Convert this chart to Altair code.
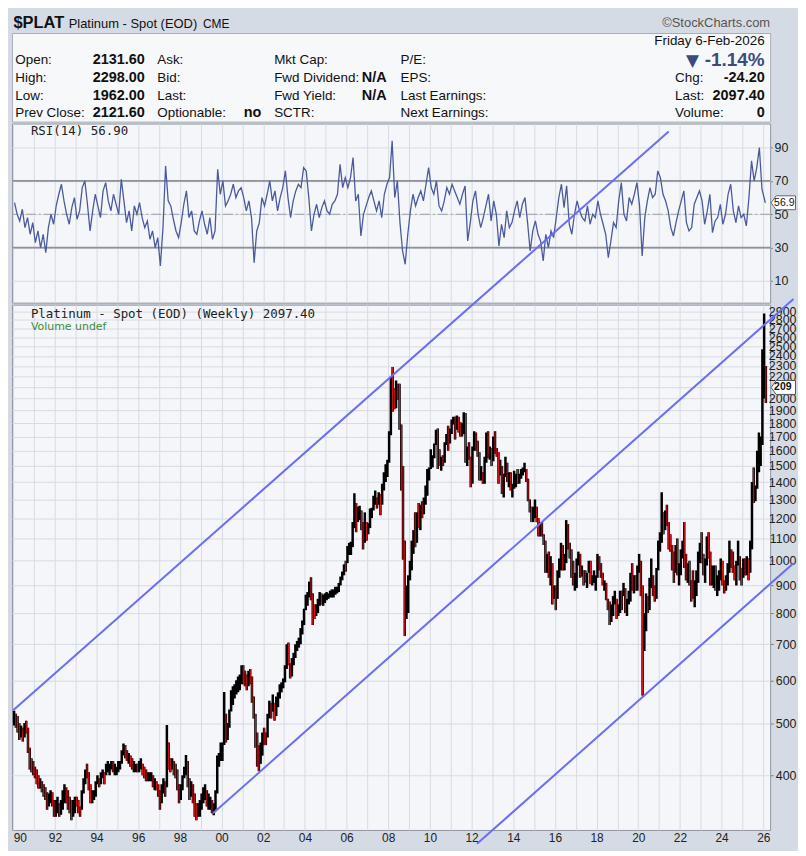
import altair as alt
import pandas as pd

# ------------------------------------------------------------------ data
START_YEAR = 1990  # first monthly bar = Jan 1990

HIGH = [
    527, 520, 515, 500, 495, 490, 500, 505, 490, 450, 430, 425,
    415, 410, 400, 395, 390, 385, 380, 372, 370, 375, 372, 360,
    360, 365, 355, 360, 375, 385, 380, 375, 365, 360, 360, 365,
    365, 360, 350, 375, 395, 410, 420, 405, 385, 375, 375, 390,
    400, 395, 405, 410, 405, 420, 425, 420, 425, 425, 420, 415,
    425, 425, 445, 458, 455, 445, 440, 435, 430, 425, 420, 420,
    425, 430, 420, 415, 410, 405, 405, 405, 400, 395, 390, 385,
    375, 385, 395, 390, 496, 460, 430, 430, 425, 420, 410, 385,
    385, 400, 415, 436, 425, 395, 390, 385, 370, 355, 355, 360,
    370, 380, 385, 375, 370, 365, 360, 355, 375, 435, 440, 460,
    460, 571, 520, 500, 530, 575, 585, 590, 600, 610, 615, 640,
    640, 625, 615, 625, 630, 610, 560, 520, 480, 455, 460, 480,
    490, 480, 520, 550, 545, 565, 545, 560, 570, 590, 595, 605,
    640, 700, 705, 645, 660, 675, 700, 710, 720, 750, 775, 815,
    865, 875, 915, 932, 870, 830, 830, 850, 875, 870, 865, 870,
    875, 870, 880, 885, 885, 895, 895, 910, 935, 955, 985, 1000,
    1065, 1080, 1085, 1180, 1335, 1280, 1260, 1265, 1240, 1180, 1230, 1180,
    1175, 1250, 1255, 1320, 1350, 1310, 1340, 1330, 1390, 1460, 1510, 1540,
    1740, 2195, 2290, 2090, 2160, 2130, 2130, 1790, 1500, 1090, 900, 940,
    1000, 1090, 1140, 1230, 1230, 1280, 1270, 1290, 1310, 1380, 1480, 1490,
    1610, 1570, 1650, 1750, 1760, 1610, 1560, 1570, 1660, 1720, 1780, 1760,
    1830, 1850, 1850, 1860, 1850, 1810, 1800, 1886, 1880, 1630, 1660, 1560,
    1630, 1740, 1730, 1670, 1590, 1500, 1460, 1560, 1730, 1740, 1630, 1620,
    1700, 1740, 1620, 1590, 1540, 1500, 1450, 1560, 1520, 1460, 1460, 1390,
    1470, 1450, 1480, 1450, 1480, 1490, 1520, 1480, 1420, 1300, 1260, 1260,
    1300, 1260, 1200, 1180, 1180, 1120, 1090, 1030, 1040, 1020, 990, 900,
    900, 960, 1010, 1080, 1070, 1030, 1190, 1170, 1080, 1050, 1000, 950,
    1010, 1040, 1030, 980, 960, 960, 950, 1000, 1000, 940, 960, 940,
    1030, 1020, 990, 950, 920, 910, 850, 840, 830, 860, 880, 850,
    830, 880, 880, 910, 890, 850, 880, 950, 990, 940, 940, 980,
    1030, 1000, 900, 800, 870, 860, 930, 1010, 940, 900, 970, 1090,
    1130, 1340, 1230, 1240, 1270, 1180, 1120, 1070, 1040, 1070, 1100, 990,
    1050, 1090, 1180, 1030, 990, 1000, 920, 960, 920, 960, 1040, 1080,
    1130, 1030, 1010, 1110, 1130, 1040, 980, 980, 980, 940, 960, 1010,
    1000, 920, 940, 990, 1090, 1050, 1040, 980, 1000, 1090, 1020, 970,
    1010, 1010, 1020, 1010, 1090, 1400, 1490, 1380, 1600, 1730, 1700, 2470,
    2876, 2298,
]

LOW = [
    495, 490, 480, 465, 470, 462, 470, 478, 440, 410, 405, 400,
    395, 385, 378, 378, 372, 365, 360, 345, 350, 355, 350, 335,
    335, 340, 335, 338, 345, 355, 355, 345, 340, 330, 335, 340,
    350, 340, 335, 345, 370, 385, 395, 375, 355, 355, 360, 365,
    385, 380, 385, 395, 385, 400, 405, 400, 410, 405, 400, 400,
    405, 410, 420, 435, 430, 425, 420, 415, 410, 405, 405, 405,
    405, 410, 400, 395, 390, 390, 390, 390, 380, 375, 375, 365,
    345, 355, 370, 365, 380, 410, 405, 410, 400, 395, 375, 355,
    360, 375, 395, 400, 380, 360, 365, 355, 335, 330, 335, 335,
    345, 355, 360, 350, 345, 345, 340, 337, 345, 370, 415, 425,
    425, 455, 460, 465, 490, 525, 540, 555, 565, 570, 575, 590,
    590, 585, 575, 585, 590, 545, 510, 450, 415, 407, 420, 435,
    455, 455, 470, 510, 510, 525, 505, 515, 535, 555, 570, 580,
    595, 630, 640, 605, 610, 640, 660, 680, 690, 700, 730, 760,
    810, 825, 855, 845, 760, 780, 790, 800, 825, 830, 825, 835,
    845, 850, 855, 855, 855, 865, 870, 875, 900, 920, 940, 955,
    990, 1025, 1025, 1060, 1150, 1130, 1180, 1190, 1140, 1050, 1080, 1090,
    1120, 1150, 1200, 1240, 1270, 1250, 1270, 1215, 1270, 1350, 1400, 1430,
    1520, 1710, 1890, 1910, 1920, 1990, 1750, 1350, 1005, 725, 780, 800,
    920, 960, 1030, 1060, 1080, 1150, 1140, 1200, 1220, 1270, 1320, 1410,
    1480, 1490, 1550, 1640, 1480, 1500, 1470, 1500, 1520, 1640, 1600, 1650,
    1720, 1790, 1680, 1750, 1730, 1700, 1700, 1720, 1520, 1500, 1540, 1370,
    1390, 1600, 1600, 1560, 1410, 1410, 1390, 1390, 1520, 1550, 1540, 1500,
    1530, 1580, 1560, 1390, 1440, 1330, 1310, 1430, 1400, 1370, 1350, 1310,
    1360, 1370, 1390, 1390, 1420, 1440, 1460, 1400, 1290, 1230, 1180, 1180,
    1200, 1180, 1110, 1110, 1110, 1070, 950, 950, 930, 900, 830, 850,
    810, 850, 930, 960, 960, 960, 990, 1050, 1010, 930, 900, 880,
    890, 980, 930, 935, 900, 910, 890, 950, 905, 900, 910, 880,
    930, 960, 930, 900, 880, 845, 810, 760, 770, 790, 830, 780,
    790, 800, 810, 860, 800, 790, 830, 840, 880, 870, 880, 880,
    950, 860, 562, 680, 740, 800, 810, 890, 860, 840, 850, 960,
    1040, 1080, 1120, 1140, 1160, 1050, 1040, 960, 910, 950, 940, 900,
    940, 1010, 970, 920, 910, 900, 840, 850, 820, 860, 910, 990,
    990, 940, 910, 980, 1010, 900, 900, 890, 880, 860, 880, 920,
    900, 870, 880, 900, 950, 970, 950, 920, 900, 980, 920, 900,
    930, 940, 940, 920, 950, 1050, 1280, 1290, 1360, 1460, 1500, 1640,
    2000, 1962,
]

CLOSE = [
    505, 500, 490, 470, 480, 470, 490, 485, 445, 418, 415, 408,
    400, 392, 385, 385, 378, 372, 368, 352, 362, 365, 355, 340,
    350, 350, 340, 355, 365, 375, 365, 355, 345, 340, 355, 360,
    355, 345, 340, 370, 390, 405, 400, 385, 360, 365, 370, 385,
    390, 385, 400, 400, 395, 410, 410, 415, 420, 410, 410, 410,
    420, 420, 440, 450, 435, 430, 430, 425, 415, 415, 415, 410,
    415, 415, 410, 400, 395, 395, 395, 395, 385, 385, 380, 370,
    355, 375, 385, 380, 430, 420, 415, 420, 415, 405, 385, 365,
    380, 395, 410, 420, 390, 370, 380, 365, 345, 340, 345, 350,
    360, 370, 375, 355, 355, 355, 345, 345, 370, 420, 430, 445,
    450, 510, 475, 490, 525, 560, 570, 575, 590, 590, 600, 615,
    610, 600, 590, 610, 600, 555, 530, 460, 440, 425, 440, 475,
    470, 465, 515, 545, 525, 560, 525, 550, 555, 580, 585, 600,
    635, 690, 660, 615, 650, 660, 690, 700, 705, 740, 760, 810,
    850, 860, 905, 860, 810, 800, 810, 840, 860, 850, 855, 860,
    860, 865, 865, 870, 870, 880, 880, 900, 920, 940, 970, 965,
    1045, 1045, 1070, 1150, 1250, 1220, 1230, 1230, 1160, 1100, 1190, 1120,
    1150, 1220, 1240, 1300, 1300, 1270, 1320, 1260, 1360, 1440, 1460, 1530,
    1720, 2170, 2000, 1990, 2100, 2040, 1780, 1460, 1030, 830, 850, 930,
    980, 1070, 1130, 1100, 1200, 1180, 1260, 1250, 1290, 1340, 1450, 1460,
    1530, 1550, 1640, 1720, 1560, 1530, 1540, 1530, 1660, 1700, 1670, 1750,
    1800, 1830, 1760, 1830, 1810, 1720, 1790, 1830, 1520, 1600, 1550, 1370,
    1610, 1720, 1640, 1570, 1430, 1450, 1410, 1540, 1670, 1590, 1590, 1530,
    1680, 1590, 1580, 1460, 1460, 1340, 1430, 1520, 1410, 1450, 1360, 1370,
    1380, 1430, 1410, 1420, 1460, 1480, 1480, 1420, 1300, 1250, 1210, 1210,
    1250, 1190, 1140, 1140, 1110, 1080, 980, 1020, 910, 980, 840, 890,
    870, 930, 970, 1070, 980, 1000, 1150, 1060, 1020, 950, 900, 905,
    1000, 1025, 950, 950, 940, 920, 940, 990, 910, 920, 930, 930,
    1000, 990, 940, 900, 900, 850, 830, 790, 820, 840, 850, 800,
    820, 860, 850, 890, 800, 840, 870, 930, 890, 930, 900, 970,
    970, 860, 730, 770, 840, 810, 910, 930, 880, 860, 960, 1070,
    1080, 1200, 1190, 1200, 1190, 1070, 1050, 1010, 960, 1030, 960, 960,
    1020, 1050, 990, 940, 950, 910, 880, 850, 860, 930, 1000, 1070,
    1010, 950, 990, 1100, 1030, 910, 940, 960, 910, 930, 940, 1000,
    930, 880, 920, 960, 1040, 1010, 990, 930, 990, 1000, 950, 910,
    980, 950, 990, 960, 1070, 1340, 1300, 1360, 1550, 1600, 1640, 2060,
    2122, 2097.4,
]

# RSI(14), eight readings per year from 1990, plus the last value
RSI_PER_YEAR = 8
RSI = [
    57, 50, 46, 53, 42, 48, 38, 45,
    33, 40, 30, 38, 27, 42, 50, 44,
    55, 62, 68, 58, 50, 44, 54, 60,
    47, 52, 66, 70, 56, 40, 52, 62,
    55, 48, 64, 69, 58, 52, 62, 56,
    50, 71, 58, 45, 52, 40, 55, 50,
    57, 48, 42, 46, 35, 40, 30, 36,
    19, 42, 79, 58, 55, 47, 40, 36,
    45, 56, 64, 48, 52, 40, 38, 46,
    52, 44, 38, 48, 35, 40, 77, 62,
    70, 55, 58, 62, 68, 60, 64, 66,
    60, 52, 58, 48, 21, 40, 45, 60,
    55, 62, 70, 58, 64, 52, 60, 66,
    76, 60, 48, 58, 64, 68, 66, 78,
    76, 60, 40, 50, 56, 48, 54, 58,
    52, 50, 56, 58, 62, 80, 66, 72,
    66, 72, 84, 58, 62, 37, 50, 55,
    60, 64, 58, 52, 58, 48, 62, 68,
    72, 94, 60, 70, 45, 28, 20, 38,
    52, 62, 55, 60, 64, 58, 68, 78,
    66, 62, 70, 55, 52, 58, 66, 62,
    68, 64, 60, 56, 62, 67, 34, 45,
    58, 64, 50, 42, 48, 55, 62, 46,
    58, 50, 31, 44, 36, 52, 42, 45,
    52, 58, 48, 56, 60, 45, 28, 40,
    46, 38, 34, 22, 38, 30, 40, 36,
    48, 60, 68, 54, 67, 44, 38, 50,
    58, 52, 48, 46, 55, 44, 50, 48,
    58, 50, 44, 38, 24, 34, 45, 42,
    58, 69, 50, 46, 60, 56, 62, 69,
    55, 25, 48, 58, 66, 60, 62, 76,
    72, 62, 58, 52, 42, 37, 45, 52,
    58, 64, 45, 40, 42, 56, 60, 64,
    58, 44, 52, 62, 39, 46, 48, 56,
    44, 50, 62, 68, 52, 45, 55, 48,
    50, 43, 60, 82, 70, 78, 90, 65,
]
RSI_LAST_T = 2026.10
RSI_LAST = 56.90

# channel lines (year, price) end points
TREND_T = [[1990.0, 2021.46], [1999.59, 2027.45], [2012.26, 2027.45]]
TREND_P = [[528, 6262], [340, 3060], [298.4, 990]]

# header texts
SYMBOL = "$PLAT"
NAME = "Platinum - Spot (EOD)"
EXCHANGE = "CME"
BRAND = "©StockCharts.com"
DATE_TEXT = "Friday  6-Feb-2026"
PCT_CHANGE = "-1.14%"
HEAD_LABELS = [
    ["Open:", "High:", "Low:", "Prev Close:"],
    ["Ask:", "Bid:", "Last:", "Optionable:"],
    ["Mkt Cap:", "Fwd Dividend:", "Fwd Yield:", "SCTR:"],
    ["P/E:", "EPS:", "Last Earnings:", "Next Earnings:"],
    ["", "Chg:", "Last:", "Volume:"],
]
HEAD_VALUES = [
    ["2131.60", "2298.00", "1962.00", "2121.60"],
    ["", "", "", "no"],
    ["", "N/A", "N/A", ""],
    ["", "", "", ""],
    ["", "-24.20", "2097.40", "0"],
]
RSI_TITLE = "RSI(14) 56.90"
PRICE_TITLE = "Platinum - Spot (EOD) (Weekly) 2097.40"
VOLUME_TITLE = "Volume undef"
LAST_PRICE = 2097.40
LAST_PRICE_TEXT = "2097.40"
LAST_RSI_TEXT = "56.90"

YEARS = list(range(1990, 2027))
RSI_TICKS = [10, 30, 50, 70, 90]
PRICE_TICKS = list(range(400, 3000, 100))

# ------------------------------------------------------------------ layout / style
W = 762
H_TITLE, H_HEAD, H_RSI, H_PRICE = 21, 89, 180, 528
X_DOMAIN = [1989.94, 2026.33]
P_DOMAIN = [316.6, 2988]
R_DOMAIN = [-3.0, 104.4]

BG = "#d5dbe4"
PANEL = "#f4f6fa"
GRID = "#d7dbe2"
BORDER = "#8f959e"
FONT = "Liberation Sans"
MONO = "DejaVu Sans Mono"
BLUE = "#3d4b7c"

LABEL_X = [3.3, 146, 263.5, 390.5, 666.5]
VALUE_RX = [133.4, 250.6, 376.6, None, 756.5]
ROW_Y = [27.3, 45, 63, 80]

TAG_PATH = "M0,0 L0.5,-0.7 L2.45,-0.7 L2.45,0.7 L0.5,0.7 Z"
CUT = "\u200b"

# ------------------------------------------------------------------ helpers
def text_layer(rows, align="left", weight="normal", font=FONT):
    df = pd.DataFrame(rows, columns=["text", "px", "py", "fs", "col"])
    return alt.Chart(df).mark_text(align=align, baseline="middle",
                                   fontWeight=weight, font=font).encode(
        x=alt.X("px:Q", scale=None, axis=None),
        y=alt.Y("py:Q", scale=None, axis=None),
        text="text:N",
        size=alt.Size("fs:Q", scale=None, legend=None),
        color=alt.Color("col:N", scale=None, legend=None),
    )


def label_at(text, x, y, size, color="#222", font=MONO, weight="normal", align="left"):
    return alt.Chart(pd.DataFrame({"text": [text]})).mark_text(
        align=align, baseline="middle", font=font, fontSize=size,
        fontWeight=weight, color=color).encode(
        x=alt.value(x), y=alt.value(y), text="text:N")


def x_enc(field, with_labels):
    if with_labels:
        axis = alt.Axis(values=YEARS, grid=True, gridColor=GRID, domain=False, ticks=False,
                        labelExpr="datum.value % 2 == 0 ? (datum.value % 100 < 10 ? '0' + (datum.value % 100) : '' + (datum.value % 100)) : ''",
                        labelFont=FONT, labelFontSize=12, labelColor="#222", labelPadding=3,
                        labelFlush=2, labelOverlap=False, minExtent=0, title=None)
    else:
        axis = alt.Axis(values=YEARS, grid=True, gridColor=GRID, domain=False, ticks=False,
                        labels=False, minExtent=0, title=None)
    return alt.X(field, type="quantitative", scale=alt.Scale(domain=X_DOMAIN, nice=False, zero=False), axis=axis)


def rsi_y(field):
    return alt.Y(field, type="quantitative", scale=alt.Scale(domain=R_DOMAIN, nice=False, zero=False),
                 axis=alt.Axis(orient="right", values=RSI_TICKS, grid=True, gridColor=GRID,
                               domain=False, tickSize=2, tickColor="#777", labelFont=FONT,
                               labelFontSize=12.5, labelColor="#222", labelPadding=2,
                               minExtent=0, title=None))


def price_y(field):
    return alt.Y(field, type="quantitative",
                 scale=alt.Scale(type="log", domain=P_DOMAIN, nice=False),
                 axis=alt.Axis(orient="right", values=PRICE_TICKS, grid=True, gridColor=GRID,
                               domain=False, tickSize=3, tickColor="#777", labelFont=FONT,
                               labelFontSize=12.5, labelColor="#222", labelPadding=23,
                               labelAlign="right", labelOverlap=False, minExtent=0,
                               labelExpr="datum.value == 2100 ? '' : datum.label",
                               format="d", title=None))


# ------------------------------------------------------------------ frames
n = len(CLOSE)
t_month = [START_YEAR + (i + 0.5) / 12 for i in range(n)]
prev = [CLOSE[0]] + CLOSE[:-1]
price_df = pd.DataFrame({
    "t": t_month, "high": HIGH, "low": LOW, "close": CLOSE,
    "dir": ["down" if c < p else "up" for c, p in zip(CLOSE, prev)],
})
down_df = price_df[price_df["dir"] == "down"]

rsi_t = [START_YEAR + (i + 0.5) / RSI_PER_YEAR for i in range(len(RSI))] + [RSI_LAST_T]
rsi_df = pd.DataFrame({"t": rsi_t, "rsi": RSI + [RSI_LAST]})

trend_rows = []
for k, (ts, ps) in enumerate(zip(TREND_T, TREND_P)):
    for tt, pp in zip(ts, ps):
        trend_rows.append({"line": k, "t": tt, "p": pp})
trend_df = pd.DataFrame(trend_rows)

# ------------------------------------------------------------------ title strip
title_left = text_layer([
    [NAME, 57, 13.5, 13, "#111"],
    [EXCHANGE, 192, 13.5, 12, "#111"],
])
title_bold = text_layer([[SYMBOL, 1.5, 12.7, 16.5, "#111"]], weight="bold")
title_right = text_layer([[BRAND, 762, 13, 13, "#555"]], align="right")
title_panel = alt.layer(title_bold, title_left, title_right).properties(
    width=W, height=H_TITLE, view=alt.ViewBackground(fill=None, stroke=None))

# ------------------------------------------------------------------ header box
lab_rows, val_rows = [], []
for c, (labs, vals) in enumerate(zip(HEAD_LABELS, HEAD_VALUES)):
    for r, (lab, val) in enumerate(zip(labs, vals)):
        if lab:
            lab_rows.append([lab, LABEL_X[c], ROW_Y[r], 13.5, "#111"])
        if val:
            val_rows.append([val, VALUE_RX[c], ROW_Y[r], 14.5, "#111"])
val_rows.append([PCT_CHANGE, 756.5, 27, 19, BLUE])
head_panel = alt.layer(
    text_layer(lab_rows),
    text_layer(val_rows, align="right", weight="bold"),
    text_layer([[DATE_TEXT, 756.5, 8.5, 13.5, "#111"]], align="right"),
    text_layer([["▼", 684, 28, 17, BLUE]], align="center", font="DejaVu Sans"),
).properties(width=W, height=H_HEAD,
             view=alt.ViewBackground(fill="#f7f8fa", stroke="#a9aeb6", strokeWidth=1))

# ------------------------------------------------------------------ RSI panel
rsi_line = alt.Chart(rsi_df).mark_line(color="#4b5a9c", strokeWidth=1.3, clip=True).encode(
    x=x_enc("t", False), y=rsi_y("rsi"))
band_df = pd.DataFrame({"v": [70, 30]})
rsi_bands = alt.Chart(band_df).mark_rule(color="#8d9299", strokeWidth=1.6).encode(y=rsi_y("v"))
mid_rule = alt.Chart(pd.DataFrame({"v": [50]})).mark_rule(
    color="#9aa0a8", strokeWidth=1.2, strokeDash=[10, 3, 2, 3]).encode(y=rsi_y("v"))
rsi_tag_df = pd.DataFrame({"v": [RSI_LAST], "text": [LAST_RSI_TEXT]})
rsi_tag = alt.Chart(rsi_tag_df).mark_point(
    shape=TAG_PATH, size=400, filled=True, fill="white", stroke="#666", strokeWidth=1,
    opacity=1, clip=False).encode(x=alt.value(W + 1), y=rsi_y("v"))
rsi_tag_text = alt.Chart(rsi_tag_df).mark_text(
    align="left", baseline="middle", font=FONT, fontSize=10.5, color="#111",
    limit=21, ellipsis=CUT).encode(x=alt.value(W + 4), y=rsi_y("v"), text="text:N")
rsi_panel = alt.layer(
    mid_rule, rsi_bands, rsi_line, rsi_tag, rsi_tag_text,
    label_at(RSI_TITLE, 19, 8, 12.5),
).properties(width=W, height=H_RSI,
             view=alt.ViewBackground(fill=PANEL, stroke=BORDER, strokeWidth=1))

# ------------------------------------------------------------------ price panel
bars = alt.Chart(price_df).mark_rule(strokeWidth=2.5, clip=True, color="#000000").encode(
    x=x_enc("t", True), y=price_y("low"), y2="high")
down_bars = alt.Chart(down_df).mark_rule(strokeWidth=1.0, clip=True, color="#e3141a").encode(
    x=x_enc("t", True), y=price_y("low"), y2="high")
trend = alt.Chart(trend_df).mark_line(color="#6b6ef2", strokeWidth=2, clip=False).encode(
    x=x_enc("t", True), y=price_y("p"), detail="line:N")
ptag_df = pd.DataFrame({"p": [LAST_PRICE], "text": [LAST_PRICE_TEXT]})
price_tag = alt.Chart(ptag_df).mark_point(
    shape=TAG_PATH, size=400, filled=True, fill="white", stroke="#555", strokeWidth=1,
    opacity=1, clip=False).encode(x=alt.value(W + 1), y=price_y("p"))
price_tag_text = alt.Chart(ptag_df).mark_text(
    align="left", baseline="middle", font=FONT, fontSize=10.5, fontWeight="bold",
    color="#111", limit=21, ellipsis=CUT).encode(x=alt.value(W + 4), y=price_y("p"), text="text:N")
price_panel = alt.layer(
    bars, down_bars, trend, price_tag, price_tag_text,
    label_at(PRICE_TITLE, 19, 9, 12.5),
    label_at(VOLUME_TITLE, 19, 22, 11, color="#3c8c3c", font="DejaVu Sans"),
).properties(width=W, height=H_PRICE,
             view=alt.ViewBackground(fill=PANEL, stroke=BORDER, strokeWidth=1))

chart = alt.vconcat(title_panel, head_panel, rsi_panel, price_panel,
                    spacing=2, bounds="flush").properties(
    background=BG, padding={"left": 0, "top": 0, "right": 0, "bottom": 0})

chart.save("out.html", embed_options={"renderer": "svg", "actions": False})
